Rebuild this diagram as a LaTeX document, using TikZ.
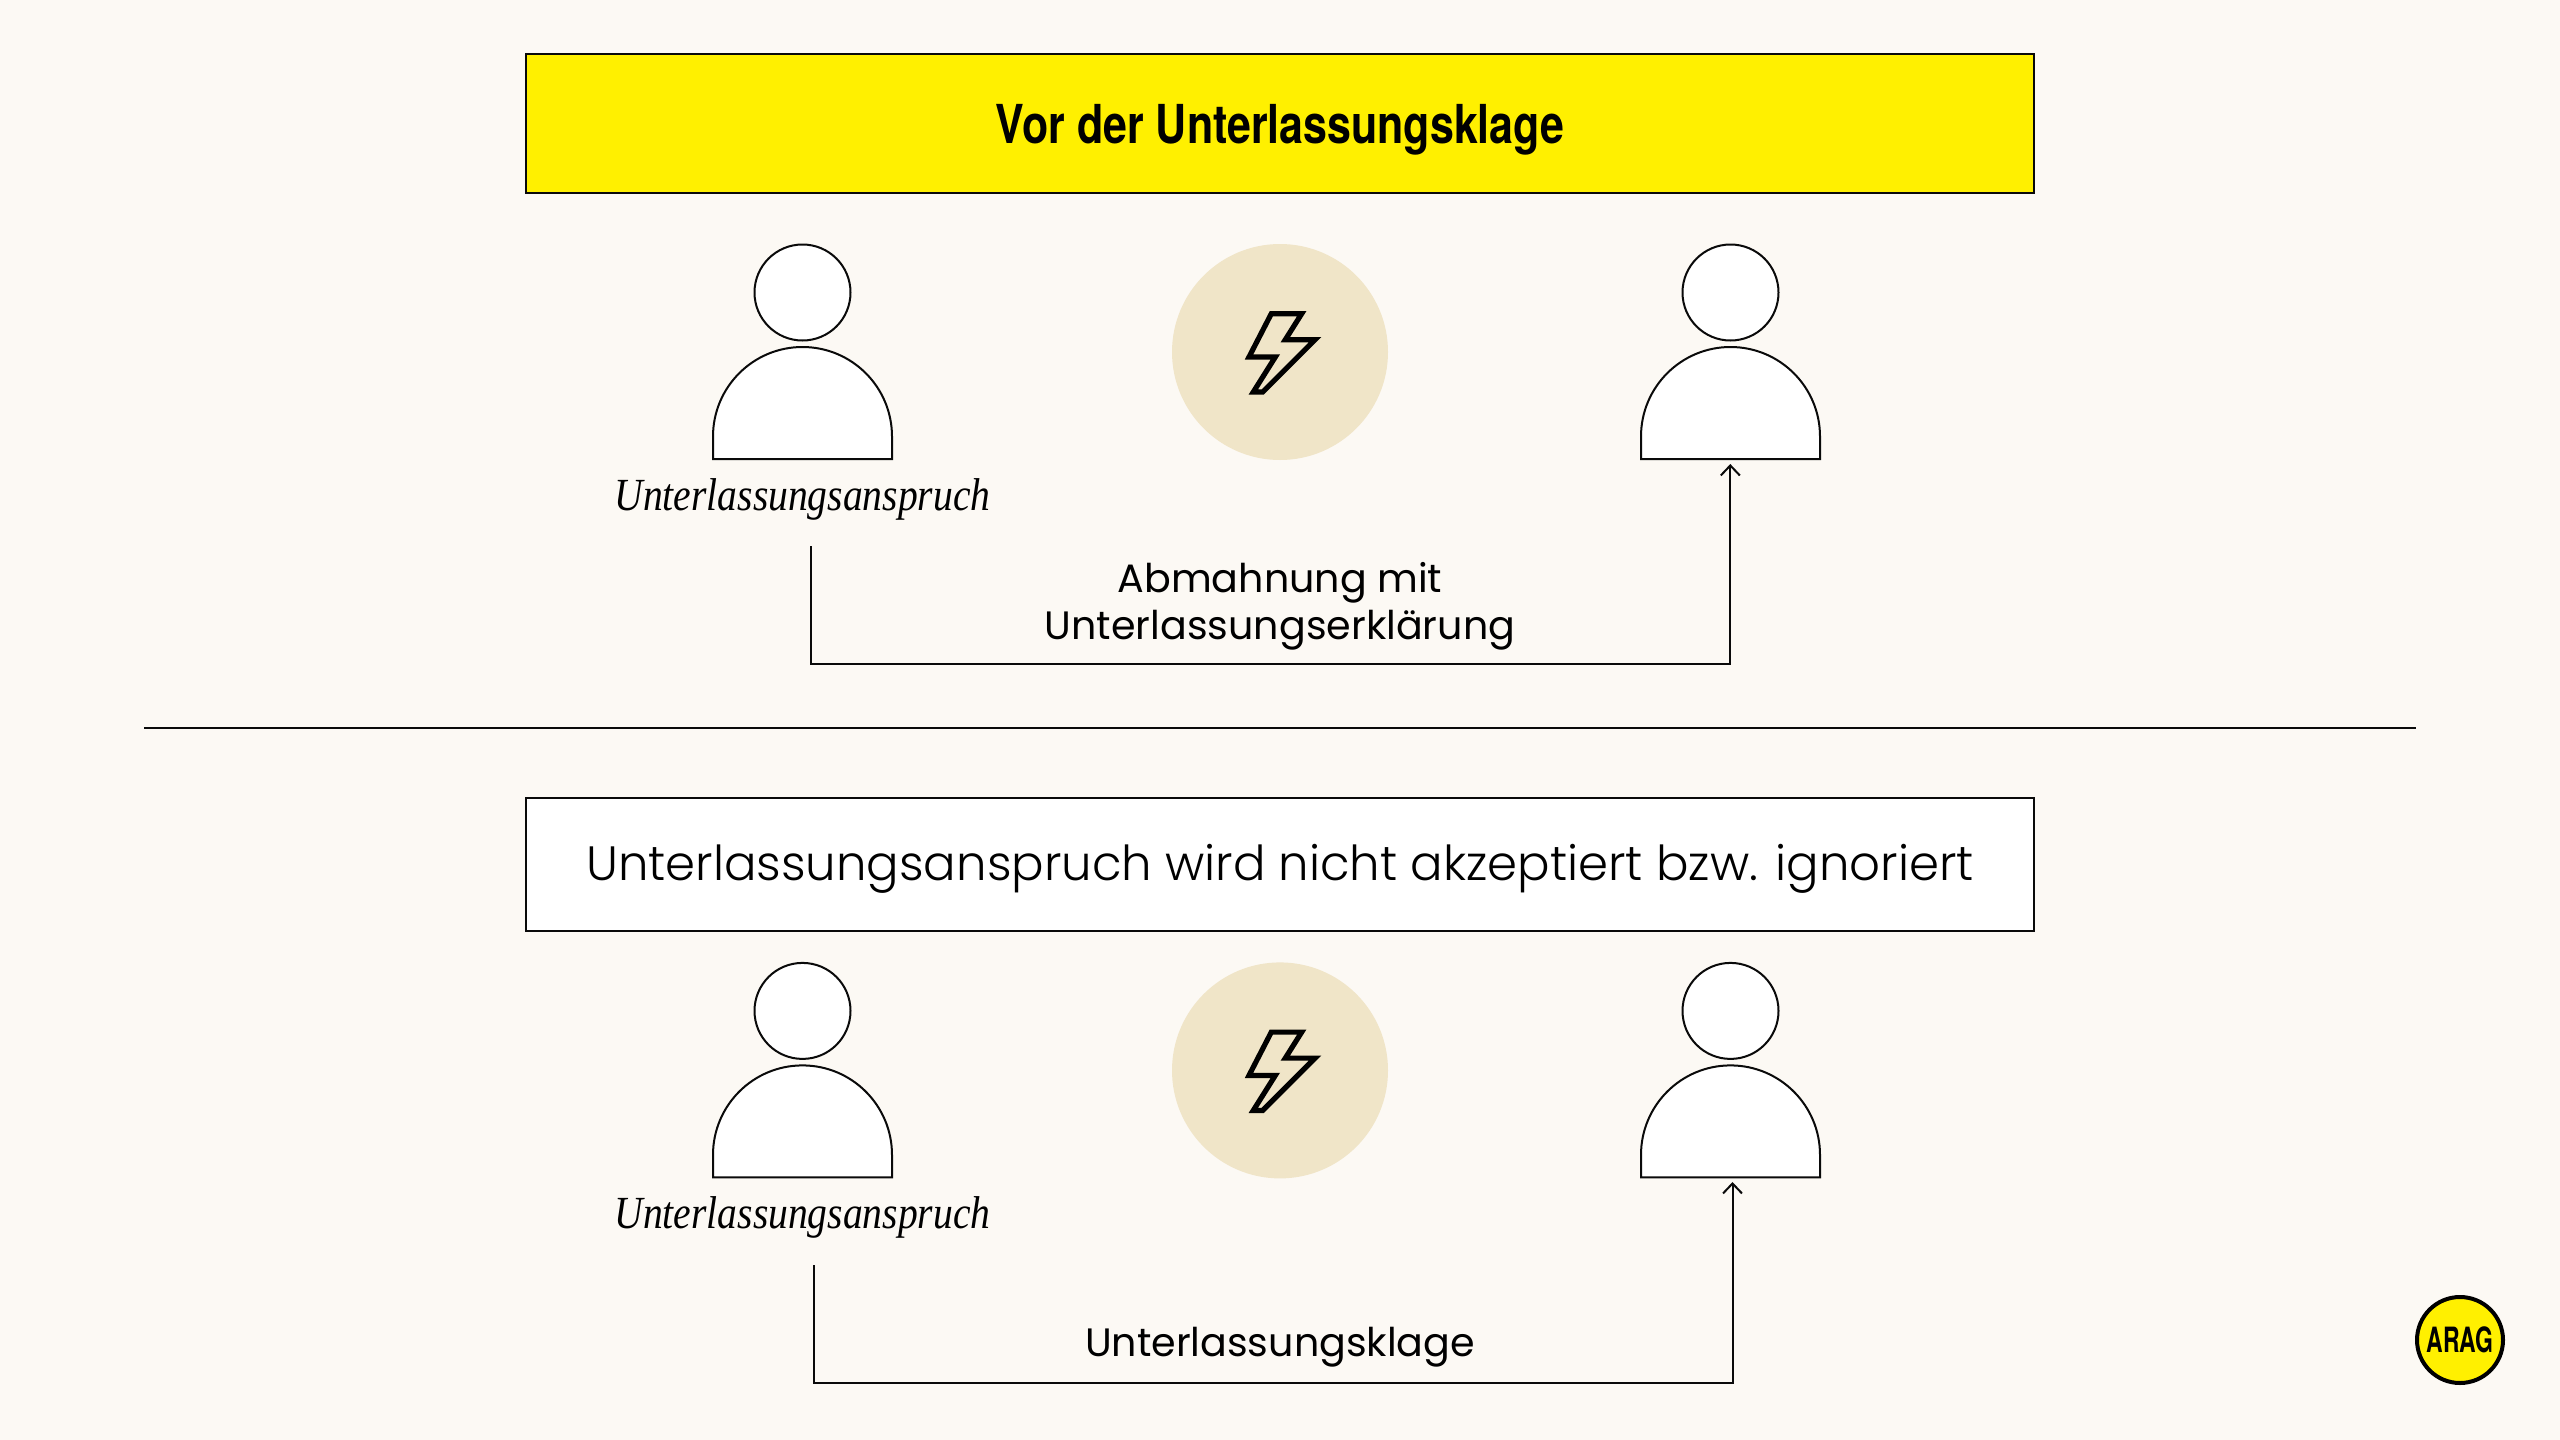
\documentclass[tikz,border=0pt]{standalone}
\usepackage{fontspec}
\usepackage{graphicx}
\usetikzlibrary{arrows.meta}
\setmainfont{Poppins}
\newfontfamily\lightfont{Poppins}[UprightFont=* Light]
\newfontfamily\headfont{TeX Gyre Heros}
\newfontfamily\serifit{Liberation Serif}
\definecolor{bgcol}{HTML}{FCF9F4}
\definecolor{araggelb}{HTML}{FFF000}
\definecolor{beige}{HTML}{F0E5C8}
\definecolor{ink}{HTML}{0A0A0A}
\tikzset{
  x=0.5pt,y=-0.5pt,
  thinline/.style={draw=ink,line width=1pt},
  banner/.style={thinline,line width=1pt},
  personpart/.style={thinline,fill=white},
  conn/.style={thinline,line cap=butt},
  arrowconn/.style={conn,-{Straight Barb[length=5pt,width=9.5pt,line width=1pt]}},
  boltline/.style={draw=black,line width=2.6pt,miter limit=10},
  labeltext/.style={inner sep=0pt,text=black,align=center,font=\fontsize{19.8}{23.6}\selectfont},
  claimtext/.style={inner sep=0pt,text=black,font=\fontsize{23}{26}\selectfont\serifit\itshape},
  anchorbox/.style={inner sep=0pt,minimum width=89.5pt,minimum height=56pt},
}
\newcommand{\personfig}[3]{%
  \node[personpart,circle,minimum size=48pt,inner sep=0pt] (head#1) at (#2,#3+292.5) {};
  \draw[personpart] (#2-89.5,#3+459) -- (#2-89.5,#3+436.5) arc[start angle=180,end angle=0,radius=44.75pt] -- (#2+89.5,#3+459) -- cycle;
  \node[anchorbox] (body#1) at (#2,#3+403) {};
}
\newcommand{\boltfig}[2]{%
  \node[circle,fill=beige,minimum size=108pt,inner sep=0pt] (conflict#1) at (1280,#2+352) {};
  \draw[boltline] (1271.3,#2+313.7) -- (1301.7,#2+313.7) -- (1285.3,#2+339.7) -- (1315,#2+339.7) -- (1262.7,#2+392) -- (1253.3,#2+392) -- (1275.3,#2+357) -- (1249,#2+357) -- cycle;
}
\begin{document}
\begin{tikzpicture}
\useasboundingbox (0,0) rectangle (2560,1440);
\fill[bgcol] (0,0) rectangle (2560,1440);
% top
\node[banner,fill=araggelb,minimum width=754pt,minimum height=69.5pt,inner sep=0pt,anchor=center] (titleA) at (1280,123.5) {};
\node[inner sep=0pt] (titleAtext) at (1280,129.5) {\fontsize{26.85}{30}\headfont\bfseries\scalebox{0.8}[1]{Vor der Unterlassungsklage}};
\personfig{A}{802.5}{0}
\personfig{B}{1730.5}{0}
\boltfig{T}{0}
\node[claimtext] (claimA) at (802.5,499) {\scalebox{0.86}[1]{Unterlassungsanspruch}};
\coordinate (startA) at (811,546);
\coordinate (laneA) at (811,664.3);
\coordinate (tipA) at (1730.3,464);
\draw[arrowconn] (startA) -- (laneA) -- (laneA -| tipA) -- (tipA);
\node[labeltext] (labelA) at (1280,606) {Abmahnung mit\\Unterlassungserklärung};
% divider
\coordinate (divL) at (144,728);
\coordinate (divR) at (2416,728);
\draw[thinline] (divL) -- (divR);
% bottom
\node[banner,fill=white,minimum width=754pt,minimum height=66.5pt,inner sep=0pt] (titleB) at (1280,864.5) {};
\node[labeltext,font=\fontsize{24.1}{28}\lightfont] (titleBtext) at (1280,869) {Unterlassungsanspruch wird nicht akzeptiert bzw. ignoriert};
\personfig{C}{802.5}{718.4}
\personfig{D}{1730.5}{718.4}
\boltfig{U}{718.4}
\node[claimtext] (claimB) at (802.5,1217) {\scalebox{0.86}[1]{Unterlassungsanspruch}};
\coordinate (startB) at (814,1265);
\coordinate (laneB) at (814,1382.5);
\coordinate (tipB) at (1732.5,1182);
\draw[arrowconn] (startB) -- (laneB) -- (laneB -| tipB) -- (tipB);
\node[labeltext] (labelB) at (1280,1347) {Unterlassungsklage};
% logo
\node[circle,draw=black,line width=2pt,fill=araggelb,minimum size=43pt,inner sep=0pt] (logo) at (2460,1340) {};
\node[inner sep=0pt] (logotext) at (2460,1340) {\fontsize{17.4}{18}\headfont\bfseries\scalebox{0.66}[1]{ARAG}};
\end{tikzpicture}
\end{document}
